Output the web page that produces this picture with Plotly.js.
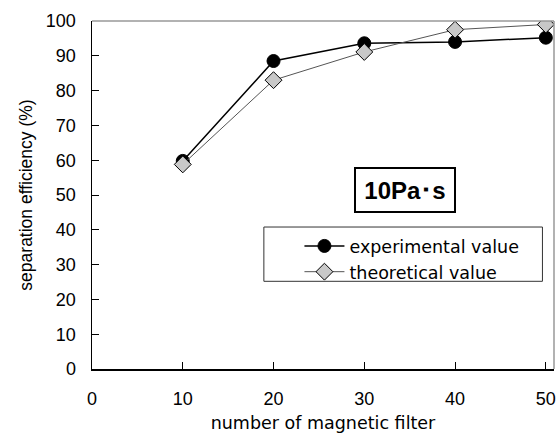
<!DOCTYPE html>
<html>
<head>
<meta charset="utf-8">
<script src="https://cdn.plot.ly/plotly-3.0.1.min.js"></script>
<style>html,body{margin:0;padding:0;background:#fff}#chart{width:556px;height:438px}</style>
</head>
<body>
<div id="chart"></div>
<script>
const filterCount = [10, 20, 30, 40, 50];
const experimental = [59.8, 88.5, 93.6, 94.0, 95.2];
const theoretical = [58.8, 83.0, 91.1, 97.5, 99.0];
const seriesNames = ["experimental value", "theoretical value"];
const xTicks = [0, 10, 20, 30, 40, 50];
const yTicks = [0, 10, 20, 30, 40, 50, 60, 70, 80, 90, 100];
const viscosityLabel = "10Pa･s";

const gothicFont = "DejaVu Sans, Noto Sans CJK JP, sans-serif";
const sansFont = "Liberation Sans, Arial, sans-serif";

const traces = [
  {
    x: filterCount, y: experimental, name: seriesNames[0], type: "scatter", mode: "lines+markers",
    line: {color: "#000", width: 1.5},
    marker: {symbol: "circle", size: 13, color: "#000", line: {color: "#000", width: 1}}
  },
  {
    x: filterCount, y: theoretical, name: seriesNames[1], type: "scatter", mode: "lines+markers",
    line: {color: "#555", width: 1},
    marker: {symbol: "diamond", size: 13, color: "#c8c8c8", line: {color: "#000", width: 1}}
  }
];

const layout = {
  width: 556, height: 438,
  margin: {l: 92, r: 2, t: 21, b: 69},
  paper_bgcolor: "#fff", plot_bgcolor: "#fff",
  showlegend: true,
  legend: {
    x: 0.449, y: 0.405, xanchor: "left", yanchor: "top",
    bgcolor: "rgba(0,0,0,0)", borderwidth: 0,
    font: {family: gothicFont, size: 17.5, color: "#000"},
    itemwidth: 40, tracegroupgap: 0
  },
  xaxis: {
    range: [0, 50.9], tickvals: xTicks, ticktext: xTicks.map(String),
    ticks: "inside", ticklen: 7, tickcolor: "#000", tickwidth: 1,
    showline: true, linecolor: "#000", linewidth: 1.5, mirror: false,
    showgrid: false, zeroline: false,
    ticklabelstandoff: 13,
    tickfont: {family: sansFont, size: 18, color: "#000"},
    title: {text: "number of magnetic filter", font: {family: gothicFont, size: 17.5, color: "#000"}, standoff: 8}
  },
  yaxis: {
    range: [0, 100], tickvals: yTicks, ticktext: yTicks.map(String),
    ticks: "inside", ticklen: 7, tickcolor: "#000", tickwidth: 1,
    showline: true, linecolor: "#000", linewidth: 1.5,
    showgrid: false, zeroline: false,
    ticklabelstandoff: 11,
    tickfont: {family: sansFont, size: 18, color: "#000"},
    title: {text: "separation efficiency (%)", font: {family: sansFont, size: 17.5, color: "#000"}, standoff: 8}
  },
  shapes: [
    {type: "line", xref: "paper", yref: "paper", x0: 0, x1: 1, y0: 1, y1: 1, line: {color: "#999", width: 1.5}},
    {type: "line", xref: "paper", yref: "paper", x0: 1, x1: 1, y0: 0, y1: 1, line: {color: "#999", width: 1.5}},
    {type: "rect", xref: "paper", yref: "paper", x0: 0.372, x1: 0.975, y0: 0.252, y1: 0.408, line: {color: "#333", width: 1}}
  ],
  annotations: [
    {
      xref: "paper", yref: "paper", x: 0.677, y: 0.515, xanchor: "center", yanchor: "middle",
      text: "<b>" + viscosityLabel + "</b>", showarrow: false,
      font: {family: sansFont, size: 24, color: "#000"},
      bordercolor: "#000", borderwidth: 2, borderpad: 6, bgcolor: "#fff",
      width: 86, height: 30
    }
  ]
};

Plotly.newPlot("chart", traces, layout, {displayModeBar: false, staticPlot: true});
</script>
</body>
</html>
